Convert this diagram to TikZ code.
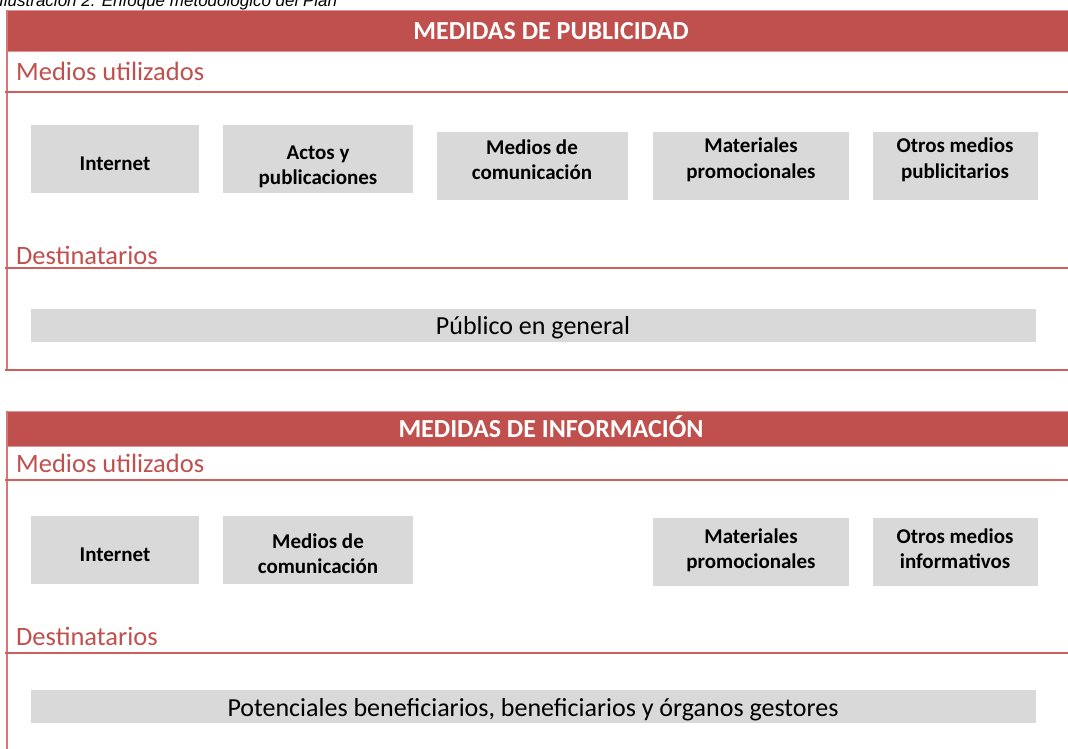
\documentclass[tikz,border=0pt]{standalone}
\usepackage{fontspec}
\setmainfont{Carlito}
\newfontfamily\arialfont{Liberation Sans}
\definecolor{hdr}{RGB}{192,80,77}
\definecolor{rl}{RGB}{205,96,94}
\definecolor{hdredge}{RGB}{222,150,148}
\definecolor{boxg}{RGB}{217,217,217}
\newcommand\twol[2]{\vtop{\baselineskip=25.5pt\halign{\hfil##\hfil\cr#1\cr#2\cr}}}
\begin{document}
\begin{tikzpicture}[x=1pt,y=-1pt,
  hdrbar/.style={draw=hdredge, line width=1pt, fill=hdr, anchor=north west, inner sep=0pt, minimum width=1075pt},
  hdrtxt/.style={anchor=base, text=white, font=\bfseries\fontsize{26}{30}\selectfont, inner sep=0pt},
  seclbl/.style={anchor=base west, text=hdr, font=\fontsize{26.5}{30}\selectfont, inner sep=0pt},
  rline/.style={draw=rl, line width=1.6pt},
  bline/.style={draw=rl!85, line width=1.8pt},
  medbox/.style={fill=boxg, draw=none, anchor=north west, inner sep=0pt, minimum height=68pt},
  widebox/.style={fill=boxg, draw=none, anchor=north west, inner sep=0pt, minimum height=33pt, minimum width=1005pt},
  btxt/.style={anchor=base, inner sep=0pt, font=\bfseries\fontsize{21}{25}\selectfont},
  wtxt/.style={anchor=base, inner sep=0pt, font=\fontsize{26}{30}\selectfont}
]
\useasboundingbox (0,0) rectangle (1068,749);
\clip (0,0) rectangle (1068,749);
\fill[white] (0,0) rectangle (1068,749);

% title (cut at top, as in the reference)
\node[anchor=base west, inner sep=0pt, font=\arialfont\itshape\fontsize{17}{20}\selectfont] (title) at (-1,6.5) {Ilustración 2. Enfoque metodológico del Plan};

% ---------- Panel 1 ----------
\node[hdrbar, minimum height=41pt] (h1) at (7,10) {};
\node[hdrtxt] (h1t) at (551,40) {MEDIDAS DE PUBLICIDAD};
\draw[bline] (7,10) -- (7,370);
\node[seclbl] (m1) at (16,81) {Medios utilizados};
\draw[rline] (5,92) -- (1068,92);

\node[medbox, minimum width=168pt] (b1) at (31,125) {};
\node[medbox, minimum width=190pt] (b2) at (223,125) {};
\node[medbox, minimum width=191pt] (b3) at (437,132) {};
\node[medbox, minimum width=196pt] (b4) at (653,132) {};
\node[medbox, minimum width=165pt] (b5) at (873,132) {};
\node[btxt] (t1) at (115,171) {Internet};
\node[btxt] (t2) at (318,159) {\twol{Actos y}{publicaciones}};
\node[btxt] (t3) at (532,154) {\twol{Medios de}{comunicación}};
\node[btxt] (t4) at (751,153) {\twol{Materiales}{promocionales}};
\node[btxt] (t5) at (955,153) {\twol{Otros medios}{publicitarios}};

\node[seclbl] (d1) at (16,264) {Destinatarios};
\draw[rline] (5,268) -- (1068,268);
\node[widebox] (p1) at (31,309) {};
\node[wtxt] (p1t) at (533,334) {Público en general};
\draw[rline] (5,370) -- (1068,370);

% ---------- Panel 2 ----------
\node[hdrbar, minimum height=35pt] (h2) at (7,411) {};
\node[hdrtxt] (h2t) at (551,437) {MEDIDAS DE INFORMACIÓN};
\draw[bline] (7,411) -- (7,749);
\node[seclbl] (m2) at (16,472) {Medios utilizados};
\draw[rline] (5,480) -- (1068,480);

\node[medbox, minimum width=168pt] (b6) at (31,516) {};
\node[medbox, minimum width=190pt] (b7) at (223,516) {};
\node[medbox, minimum width=196pt] (b8) at (653,518) {};
\node[medbox, minimum width=165pt] (b9) at (873,518) {};
\node[btxt] (t6) at (115,561) {Internet};
\node[btxt] (t7) at (318,548) {\twol{Medios de}{comunicación}};
\node[btxt] (t8) at (751,543) {\twol{Materiales}{promocionales}};
\node[btxt] (t9) at (955,543) {\twol{Otros medios}{informativos}};

\node[seclbl] (d2) at (16,645) {Destinatarios};
\draw[rline] (5,653) -- (1068,653);
\node[widebox] (p2) at (31,690) {};
\node[wtxt] (p2t) at (533,716) {Potenciales beneficiarios, beneficiarios y órganos gestores};
\end{tikzpicture}
\end{document}
